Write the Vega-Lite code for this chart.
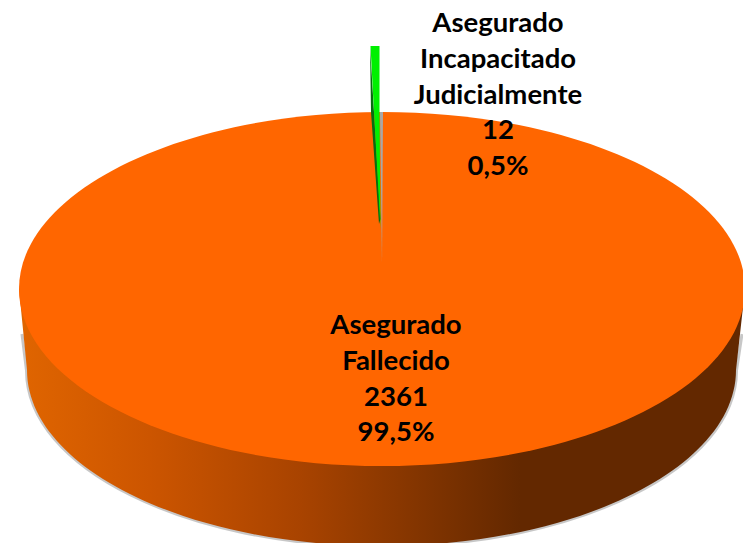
{"$schema":"https://vega.github.io/schema/vega-lite/v6.json","width":743,"height":543,"padding":0,"autosize":{"type":"none"},"background":"#ffffff","config":{"view":{"stroke":null}},
"datasets":{"slices":[{"categoria":"Asegurado Fallecido","casos":2361,"porcentaje":"99,5%","etiqueta":"Asegurado\nFallecido\n2361\n99,5%"},{"categoria":"Asegurado Incapacitado Judicialmente","casos":12,"porcentaje":"0,5%","etiqueta":"Asegurado\nIncapacitado\nJudicialmente\n12\n0,5%"}]},
"transform":[{"joinaggregate":[{"op":"sum","field":"casos","as":"total"}]}],
"encoding":{"x":{"field":"total","type":"quantitative","scale":{"domain":[0,2373],"range":[0,382]},"axis":null},"y":{"field":"total","type":"quantitative","scale":{"domain":[0,2373],"range":[0,289]},"axis":null}},
"resolve":{"scale":{"x":"independent","y":"independent"}},
"layer":[
{"data":{"name":"slices"},"transform":[{"joinaggregate":[{"op":"sum","field":"casos","as":"total"}]},{"filter":"datum.casos>100"}],"mark":{"type":"point","filled":true,"opacity":1,"size":1000000,"fillOpacity":0,"stroke":"#8f8f8f","strokeOpacity":0.5,"strokeWidth":3,"clip":true,"shape":"M-0.72,0.09 L-0.711,0.163 C-0.711,0.3574 -0.3926,0.515 -0.001,0.515 C0.3906,0.515 0.709,0.3574 0.709,0.163 L0.72,0.09"}},
{"data":{"name":"slices"},"transform":[{"joinaggregate":[{"op":"sum","field":"casos","as":"total"}]},{"filter":"datum.casos>100"}],"mark":{"type":"point","filled":true,"opacity":1,"size":1000000,"strokeWidth":0,"clip":true,"shape":"M-0.726,0 L-0.71,0.162 C-0.71,0.3564 -0.3926,0.514 -0.001,0.514 C0.3906,0.514 0.708,0.3564 0.708,0.162 L0.726,0 Z","fill":{"x1":0,"x2":1,"y1":0,"y2":0,"gradient":"linear","stops":[{"offset":0,"color":"#e06500"},{"offset":0.18,"color":"#cc5500"},{"offset":0.39,"color":"#a84300"},{"offset":0.58,"color":"#7c3200"},{"offset":0.69,"color":"#632800"},{"offset":1,"color":"#632800"}]}}},
{"data":{"name":"slices"},"transform":[{"joinaggregate":[{"op":"sum","field":"casos","as":"total"}]},{"filter":"datum.casos>100"}],"mark":{"type":"point","filled":true,"opacity":1,"size":1000000,"strokeWidth":0,"fill":"#ff6600","shape":"M-0.726,0 A0.726,0.354 0 1 1 0.726,0 A0.726,0.354 0 1 1 -0.726,0 Z"}},
{"data":{"name":"slices"},"transform":[{"joinaggregate":[{"op":"sum","field":"casos","as":"total"}]},{"filter":"datum.casos<100"}],"mark":{"type":"point","filled":true,"opacity":1,"size":1000000,"strokeWidth":0,"fill":"#a8a8a8","shape":"M-0.004,-0.354 L0.002,-0.354 L0.0,-0.052 Z"}},
{"data":{"name":"slices"},"transform":[{"joinaggregate":[{"op":"sum","field":"casos","as":"total"}]},{"filter":"datum.casos<100"}],"mark":{"type":"point","filled":true,"opacity":1,"size":1000000,"strokeWidth":0,"fill":"#0a6a12","shape":"M-0.024,-0.486 L-0.022,-0.354 L-0.006,-0.13 L-0.003,-0.14 L-0.016,-0.354 Z"}},
{"data":{"name":"slices"},"transform":[{"joinaggregate":[{"op":"sum","field":"casos","as":"total"}]},{"filter":"datum.casos<100"}],"mark":{"type":"point","filled":true,"opacity":1,"size":1000000,"strokeWidth":0,"fill":"#00f000","shape":"M-0.023,-0.486 L-0.005,-0.486 L-0.005,-0.354 L-0.003,-0.12 L-0.016,-0.354 Z"}},
{"data":{"name":"slices"},"mark":{"type":"text","font":"Lato","fontWeight":"bold","fontSize":27.5,"lineHeight":35.8,"lineBreak":"\n","color":"#000000","align":"center","baseline":"middle"},"encoding":{"x":{"field":"casos","type":"quantitative","scale":{"domain":[12,2361],"range":[498,396]},"axis":null},"y":{"field":"casos","type":"quantitative","scale":{"domain":[12,2361],"range":[24,326]},"axis":null},"text":{"field":"etiqueta"}}}
]}
